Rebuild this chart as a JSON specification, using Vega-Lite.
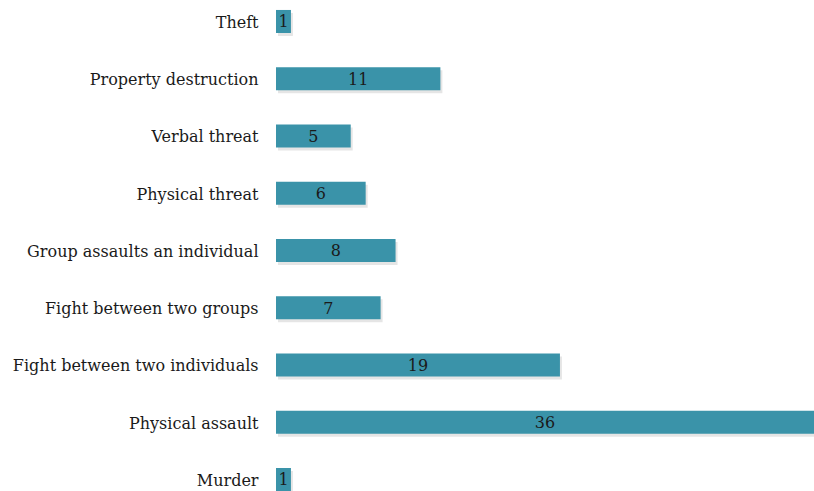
{
  "$schema": "https://vega.github.io/schema/vega-lite/v6.json",
  "width": 538,
  "height": 491,
  "autosize": {"type": "none"},
  "padding": {"left": 276, "top": 0, "right": 0, "bottom": 0},
  "background": "white",
  "config": {"view": {"stroke": null}},
  "data": {
    "values": [
      {"type": "Theft", "count": 1},
      {"type": "Property destruction", "count": 11},
      {"type": "Verbal threat", "count": 5},
      {"type": "Physical threat", "count": 6},
      {"type": "Group assaults an individual", "count": 8},
      {"type": "Fight between two groups", "count": 7},
      {"type": "Fight between two individuals", "count": 19},
      {"type": "Physical assault", "count": 36},
      {"type": "Murder", "count": 1}
    ]
  },
  "encoding": {
    "y": {
      "field": "type",
      "type": "nominal",
      "sort": null,
      "scale": {"paddingInner": 0.598, "paddingOuter": 0.087, "align": 1},
      "axis": {
        "title": null,
        "domain": false,
        "ticks": false,
        "labelPadding": 18,
        "labelOffset": 1.5,
        "labelFont": "DejaVu Serif",
        "labelFontSize": 16,
        "labelColor": "#1a1a1a",
        "labelLimit": 400
      }
    }
  },
  "layer": [
    {
      "mark": {"type": "bar", "color": "#000000", "opacity": 0.1, "xOffset": 2, "yOffset": 3},
      "encoding": {
        "x": {"field": "count", "type": "quantitative", "scale": {"domain": [0, 36], "nice": false}, "axis": null}
      }
    },
    {
      "mark": {"type": "bar", "color": "#3a93a9"},
      "encoding": {
        "x": {"field": "count", "type": "quantitative", "scale": {"domain": [0, 36], "nice": false}, "axis": null}
      }
    },
    {
      "mark": {"type": "text", "font": "DejaVu Serif", "fontSize": 16, "color": "#1a1a1a", "align": "center", "baseline": "middle", "dy": 1},
      "encoding": {
        "x": {"field": "count", "type": "quantitative", "scale": {"domain": [0, 72], "nice": false}, "axis": null},
        "text": {"field": "count", "type": "quantitative"}
      }
    }
  ],
  "resolve": {"scale": {"x": "independent"}}
}
